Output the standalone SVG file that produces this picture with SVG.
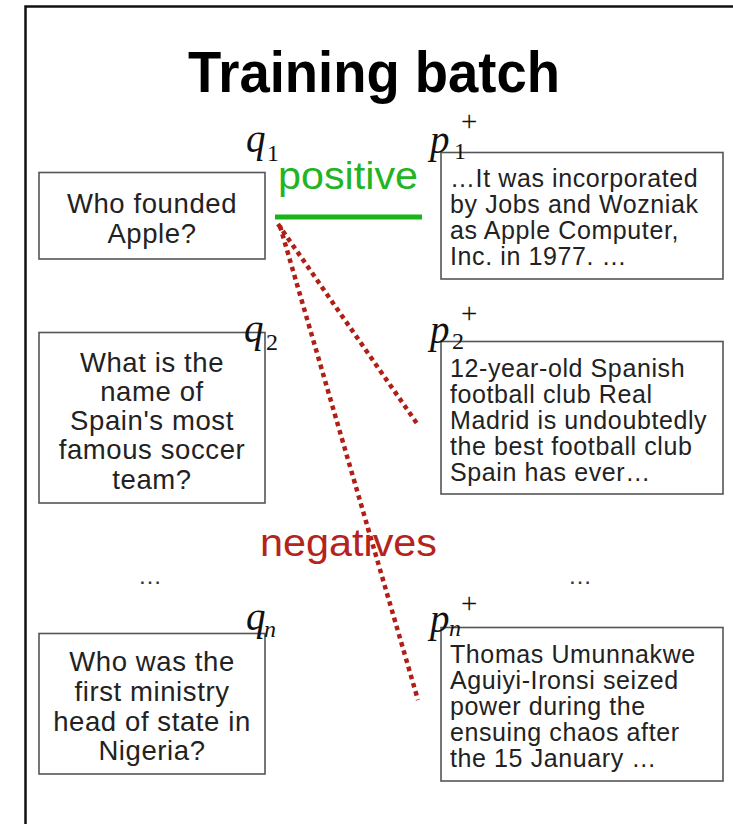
<svg xmlns="http://www.w3.org/2000/svg" width="733" height="824" viewBox="0 0 733 824">
  <style>
    .frame { fill: none; stroke: #111; stroke-width: 2.5; }
    .box { fill: #fff; stroke: #555; stroke-width: 1.6; }
    .qtxt { font-family: "Liberation Sans", Arial, sans-serif; font-size: 27.5px; letter-spacing: 0.6px; fill: #222; text-anchor: middle; }
    .ptxt { font-family: "Liberation Sans", Arial, sans-serif; font-size: 25px; letter-spacing: 0.6px; fill: #222; }
    .var { font-family: "Liberation Serif", "Times New Roman", serif; font-style: italic; font-size: 39px; fill: #111; }
    .sub { font-family: "Liberation Serif", "Times New Roman", serif; font-size: 24px; fill: #111; }
    .sup { font-family: "Liberation Serif", "Times New Roman", serif; font-size: 29px; fill: #111; }
    .pos { stroke: #18b418; stroke-width: 5; fill: none; }
    .neg { stroke: #b01e16; stroke-width: 4.5; stroke-dasharray: 4.5 4; fill: none; }
    .dots { font-family: "Liberation Sans", Arial, sans-serif; font-size: 24px; fill: #333; text-anchor: middle; }
  </style>

  <rect width="733" height="824" fill="#fff"/>

  <!-- outer frame (open to the right and bottom) -->
  <path class="frame" d="M25.5 824 V6.5 H733"/>

  <!-- title -->
  <text x="374" y="92" font-family="Liberation Sans, Arial, sans-serif" font-weight="bold" font-size="57" fill="#000" text-anchor="middle" textLength="372" lengthAdjust="spacingAndGlyphs">Training batch</text>

  <!-- connectors -->
  <g id="connectors">
    <line class="pos" x1="275" y1="217" x2="422" y2="217"/>
    <line class="neg" x1="278" y1="224" x2="418" y2="425"/>
    <line class="neg" x1="280" y1="226" x2="418" y2="700"/>
    <text x="278" y="189" font-family="Liberation Sans, Arial, sans-serif" font-size="38" fill="#22b422" textLength="140" lengthAdjust="spacingAndGlyphs">positive</text>
    <text x="260" y="556" font-family="Liberation Sans, Arial, sans-serif" font-size="38" fill="#b5231c" textLength="177" lengthAdjust="spacingAndGlyphs">negatives</text>
  </g>

  <!-- queries -->
  <g id="q1">
    <rect class="box" x="39" y="172.5" width="226" height="86.5"/>
    <text class="qtxt" x="152" y="213">Who founded</text>
    <text class="qtxt" x="152" y="243">Apple?</text>
    <text class="var" x="246" y="152">q</text>
    <text class="sub" x="267" y="161">1</text>
  </g>

  <g id="q2">
    <rect class="box" x="39" y="332.5" width="226" height="170.5"/>
    <text class="qtxt" x="152" y="372">What is the</text>
    <text class="qtxt" x="152" y="401">name of</text>
    <text class="qtxt" x="152" y="430">Spain's most</text>
    <text class="qtxt" x="152" y="459">famous soccer</text>
    <text class="qtxt" x="152" y="489">team?</text>
    <text class="var" x="244" y="342">q</text>
    <text class="sub" x="266" y="350">2</text>
  </g>

  <g id="qn">
    <rect class="box" x="39" y="633.5" width="226" height="140.5"/>
    <text class="qtxt" x="152" y="671">Who was the</text>
    <text class="qtxt" x="152" y="701">first ministry</text>
    <text class="qtxt" x="152" y="731">head of state in</text>
    <text class="qtxt" x="152" y="760">Nigeria?</text>
    <text class="var" x="246" y="630">q</text>
    <text class="sub" x="264" y="637" font-style="italic">n</text>
  </g>

  <!-- positive passages -->
  <g id="p1">
    <rect class="box" x="441" y="152.5" width="282" height="126.5"/>
    <text class="ptxt" x="450" y="187">…It was incorporated</text>
    <text class="ptxt" x="450" y="213">by Jobs and Wozniak</text>
    <text class="ptxt" x="450" y="239">as Apple Computer,</text>
    <text class="ptxt" x="450" y="265">Inc. in 1977. …</text>
    <text class="var" x="430" y="153">p</text>
    <text class="sub" x="454" y="159">1</text>
    <text class="sup" x="461" y="131">+</text>
  </g>

  <g id="p2">
    <rect class="box" x="441" y="341.5" width="282" height="152.5"/>
    <text class="ptxt" x="450" y="377">12-year-old Spanish</text>
    <text class="ptxt" x="450" y="403">football club Real</text>
    <text class="ptxt" x="450" y="429">Madrid is undoubtedly</text>
    <text class="ptxt" x="450" y="455">the best football club</text>
    <text class="ptxt" x="450" y="481">Spain has ever…</text>
    <text class="var" x="430" y="343">p</text>
    <text class="sub" x="452" y="349">2</text>
    <text class="sup" x="461" y="323">+</text>
  </g>

  <g id="pn">
    <rect class="box" x="441" y="627.5" width="282" height="153.5"/>
    <text class="ptxt" x="450" y="663">Thomas Umunnakwe</text>
    <text class="ptxt" x="450" y="689">Aguiyi-Ironsi seized</text>
    <text class="ptxt" x="450" y="715">power during the</text>
    <text class="ptxt" x="450" y="741">ensuing chaos after</text>
    <text class="ptxt" x="450" y="767">the 15 January …</text>
    <text class="var" x="430" y="632">p</text>
    <text class="sub" x="449" y="636" font-style="italic">n</text>
    <text class="sup" x="461" y="613">+</text>
  </g>

  <!-- ellipses between rows -->
  <text class="dots" x="150" y="584">…</text>
  <text class="dots" x="580" y="584">…</text>
</svg>
